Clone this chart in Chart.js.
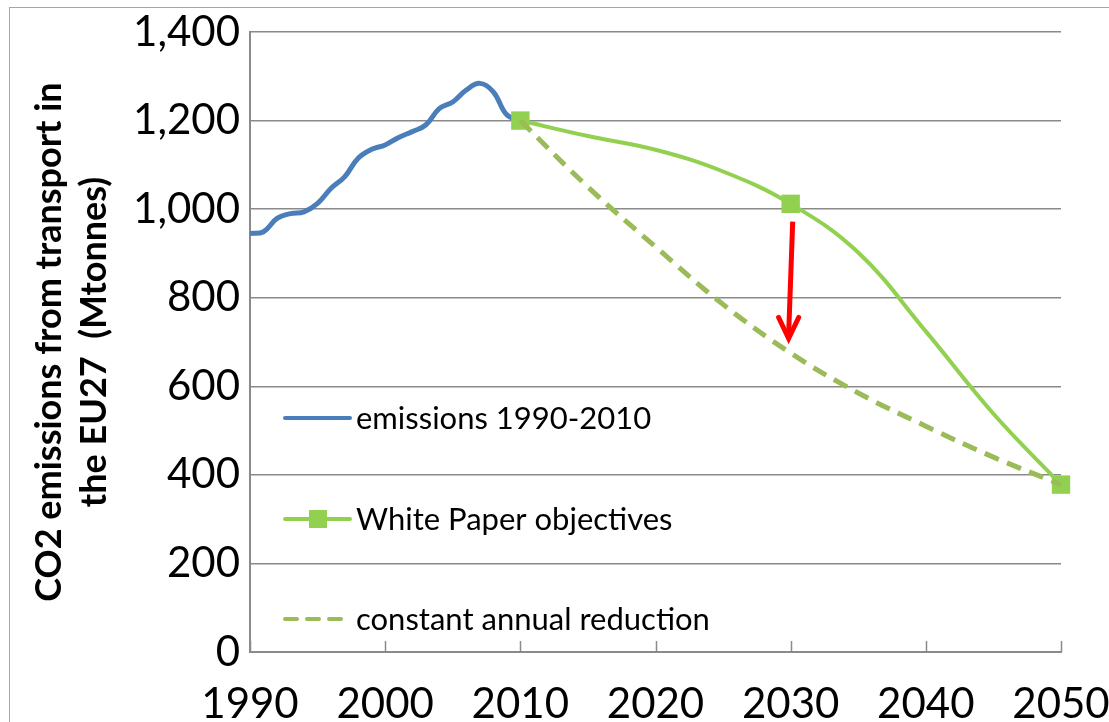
<!DOCTYPE html>
<html>
<head>
<meta charset="utf-8">
<script src="https://cdn.jsdelivr.net/npm/chart.js@4"></script>
<style>
  html, body { margin: 0; padding: 0; background: #fff; overflow: hidden; }
  #frame { position: absolute; left: 9px; top: 7px; width: 1200px; height: 800px; border: 1.5px solid #a6a6a6; }
  #wrap { position: absolute; left: 0; top: 0; width: 1109px; height: 722px; }
</style>
</head>
<body>
<div id="frame"></div>
<div id="wrap"><canvas id="chart"></canvas></div>
<script>
// --- Data ---
const emissionYears = [1990, 1991, 1992, 1993, 1994, 1995, 1996, 1997, 1998, 1999, 2000,
                       2001, 2002, 2003, 2004, 2005, 2006, 2007, 2008, 2009, 2010];
const emissionValues = [945, 949, 979, 990, 994, 1013, 1047, 1073, 1115, 1135, 1145,
                        1162, 1175, 1190, 1227, 1242, 1269, 1284, 1265, 1213, 1200];

const targetYears = [2010, 2015, 2020, 2025, 2030, 2035, 2040, 2045, 2050];
const whitePaperValues = [1200, 1165, 1134, 1085, 1012, 902, 724, 538, 378];
const constantValues = [1200, 1050, 915, 785, 675, 585, 510, 440, 378];
// only the objective years carry a marker
const markerYears = [2010, 2030, 2050];

const yTicks = [0, 200, 400, 600, 800, 1000, 1200, 1400];
const xTicks = [1990, 2000, 2010, 2020, 2030, 2040, 2050];

const legendLabels = ["emissions 1990-2010", "White Paper objectives", "constant annual reduction"];

// arrow from White Paper 2030 towards the constant reduction line
const arrowFrom = { x: 2030.15, y: 972 };
const arrowTo = { x: 2029.85, y: 708 };

const BLUE = "#4a7ebb";
const GREEN = "#92d050";
const OLIVE = "#9bbb59";
const GRID = "#8a8a8a";
const FONT = "Lato, 'Open Sans', sans-serif";

function toPoints(xs, ys) {
    return xs.map((x, i) => ({ x: x, y: ys[i] }));
}

// --- Extras: inner x ticks, legend inside plot, red arrow ---
const extras = {
    id: "extras",
    afterDatasetsDraw(chart) {
        const ctx = chart.ctx;
        const xs = chart.scales.x;
        const ys = chart.scales.y;
        const area = chart.chartArea;

        // small tick marks pointing up from the x axis
        ctx.save();
        ctx.strokeStyle = GRID;
        ctx.lineWidth = 1.5;
        xTicks.forEach(t => {
            const px = Math.round(xs.getPixelForValue(t)) + 0.5;
            ctx.beginPath();
            ctx.moveTo(px, area.bottom);
            ctx.lineTo(px, area.bottom - 11);
            ctx.stroke();
        });
        ctx.restore();

        // red arrow
        const x1 = xs.getPixelForValue(arrowFrom.x), y1 = ys.getPixelForValue(arrowFrom.y);
        const x2 = xs.getPixelForValue(arrowTo.x), y2 = ys.getPixelForValue(arrowTo.y);
        ctx.save();
        ctx.strokeStyle = "#ff0000";
        ctx.lineWidth = 5;
        ctx.lineCap = "butt";
        ctx.beginPath();
        ctx.moveTo(x1, y1);
        ctx.lineTo(x2, y2 - 4);
        ctx.stroke();
        ctx.lineJoin = "miter";
        ctx.lineCap = "round";
        ctx.beginPath();
        ctx.moveTo(x2 - 10, y2 - 21);
        ctx.lineTo(x2, y2);
        ctx.lineTo(x2 + 10, y2 - 21);
        ctx.stroke();
        ctx.restore();

        // legend
        const lx = area.left + 35;
        const rows = [418, 519, 619];
        ctx.save();
        ctx.font = "31px " + FONT;
        ctx.fillStyle = "#000";
        ctx.textBaseline = "middle";
        ctx.lineCap = "round";

        ctx.strokeStyle = BLUE;
        ctx.lineWidth = 4;
        ctx.beginPath(); ctx.moveTo(lx, rows[0]); ctx.lineTo(lx + 65, rows[0]); ctx.stroke();

        ctx.strokeStyle = GREEN;
        ctx.lineWidth = 4;
        ctx.beginPath(); ctx.moveTo(lx, rows[1]); ctx.lineTo(lx + 65, rows[1]); ctx.stroke();
        ctx.fillStyle = GREEN;
        ctx.fillRect(lx + 33 - 9, rows[1] - 9, 18, 18);

        ctx.strokeStyle = OLIVE;
        ctx.lineWidth = 4;
        ctx.lineCap = "round";
        ctx.setLineDash([12, 10]);
        ctx.beginPath(); ctx.moveTo(lx, rows[2]); ctx.lineTo(lx + 58, rows[2]); ctx.stroke();
        ctx.setLineDash([]);

        ctx.fillStyle = "#000";
        legendLabels.forEach((t, i) => ctx.fillText(t, lx + 71, rows[i] + 1));
        ctx.restore();
    }
};

new Chart(document.getElementById("chart"), {
    type: "line",
    data: {
        datasets: [
            {
                label: legendLabels[2],
                data: toPoints(targetYears, constantValues),
                borderColor: OLIVE,
                borderWidth: 5,
                borderDash: [15, 9],
                pointRadius: 0,
                tension: 0.4,
                clip: false,
                order: 0
            },
            {
                label: legendLabels[1],
                data: toPoints(targetYears, whitePaperValues),
                borderColor: GREEN,
                backgroundColor: GREEN,
                borderWidth: 4,
                pointStyle: "rect",
                pointRadius: targetYears.map(y => markerYears.includes(y) ? 13 : 0),
                pointBorderWidth: 0,
                tension: 0.4,
                clip: false,
                order: 1
            },
            {
                label: legendLabels[0],
                data: toPoints(emissionYears, emissionValues),
                borderColor: BLUE,
                borderWidth: 5,
                pointRadius: 0,
                tension: 0.4,
                order: 2
            }
        ]
    },
    options: {
        responsive: true,
        maintainAspectRatio: false,
        animation: false,
        events: [],
        layout: { padding: { left: 0, right: 48, top: 32, bottom: 0 } },
        plugins: {
            legend: { display: false },
            tooltip: { enabled: false }
        },
        scales: {
            x: {
                type: "linear",
                min: 1990,
                max: 2050,
                afterFit(s) { s.height = 70; s.paddingLeft = 0; s.paddingRight = 0; },
                afterBuildTicks(s) { s.ticks = xTicks.map(v => ({ value: v })); },
                grid: { drawOnChartArea: false, drawTicks: false },
                border: { color: GRID, width: 2 },
                ticks: {
                    padding: 27,
                    color: "#000",
                    font: { family: FONT, size: 42 },
                    maxRotation: 0,
                    callback: v => String(v)
                }
            },
            y: {
                min: 0,
                max: 1400,
                afterFit(s) { s.width = 250; s.paddingTop = 0; s.paddingBottom = 0; },
                afterBuildTicks(s) { s.ticks = yTicks.map(v => ({ value: v })); },
                grid: { color: GRID, lineWidth: 1.5, drawTicks: false },
                border: { color: GRID, width: 2 },
                ticks: {
                    padding: 10,
                    color: "#000",
                    font: { family: FONT, size: 42 },
                    callback: v => v.toLocaleString("en-US")
                },
                title: {
                    display: true,
                    text: ["CO2 emissions from transport in", "the EU27  (Mtonnes)"],
                    color: "#000",
                    font: { family: FONT, size: 36, weight: "bold", lineHeight: 1.25 },
                    padding: { top: 27, bottom: 0 }
                }
            }
        }
    },
    plugins: [extras]
});
</script>
</body>
</html>
